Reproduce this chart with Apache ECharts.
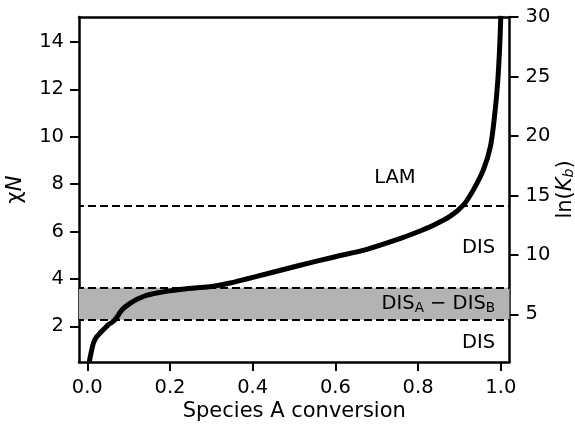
<!DOCTYPE html>
<html>
<head>
<meta charset="utf-8">
<script src="https://cdn.jsdelivr.net/npm/echarts@6/dist/echarts.min.js"></script>
<style>html,body{margin:0;padding:0;background:#fff;}#c{width:575px;height:424px;}</style>
</head>
<body>
<div id="c"></div>
<script>
// Species A conversion (x) vs chi*N (y)
const conversion = [0.005, 0.010, 0.015, 0.022, 0.031, 0.041, 0.051, 0.060, 0.067, 0.073, 0.079, 0.088, 0.099, 0.112, 0.127, 0.145, 0.168, 0.195, 0.224, 0.260, 0.300, 0.345, 0.385, 0.430, 0.510, 0.595, 0.676, 0.756, 0.797, 0.837, 0.877, 0.910, 0.934, 0.958, 0.975, 0.985, 0.992, 0.997, 1.000];
const chiN = [0.52, 0.95, 1.30, 1.55, 1.72, 1.90, 2.07, 2.18, 2.28, 2.42, 2.59, 2.77, 2.92, 3.07, 3.20, 3.32, 3.41, 3.49, 3.56, 3.62, 3.68, 3.83, 4.00, 4.20, 4.56, 4.92, 5.25, 5.70, 5.97, 6.27, 6.64, 7.13, 7.77, 8.61, 9.60, 10.9, 12.2, 13.7, 15.1];
const xTicks = [0.0, 0.2, 0.4, 0.6, 0.8, 1.0];
const yTicks = [2, 4, 6, 8, 10, 12, 14];
const lnKbTicks = [5, 10, 15, 20, 25, 30];
const lamBoundary = 7.1;
const disBand = [2.28, 3.63];
const regionLabels = ['LAM', 'DIS', 'DIS{sub|A} − DIS{sub|B}', 'DIS'];
const regionLabelX = [0.744, 0.986, 0.986, 0.986];
const regionLabelY = [8.27, 5.33, 2.96, 1.31];
const regionLabelAlign = ['center', 'right', 'right', 'right'];

const font = "'DejaVu Sans', sans-serif";
const chart = echarts.init(document.getElementById('c'), null, {renderer: 'canvas'});
const line = conversion.map((x, i) => [x, chiN[i]]);

chart.setOption({
  animation: false,
  backgroundColor: '#fff',
  grid: {left: 79, right: 65.5, top: 17, bottom: 62, containLabel: false, outerBoundsMode: 'none'},
  xAxis: [{
    type: 'value', min: -0.02, max: 1.021, position: 'bottom',
    name: 'Species A conversion', nameLocation: 'middle', nameGap: 39, nameMoveOverlap: false,
    nameTextStyle: {fontFamily: font, fontSize: 21, color: '#000'},
    axisLine: {show: true, onZero: false, lineStyle: {color: '#000', width: 2.5}},
    axisTick: {show: true, customValues: xTicks, length: 9, lineStyle: {color: '#000', width: 2}},
    axisLabel: {customValues: xTicks, margin: 16, fontFamily: font, fontSize: 19.5, color: '#000',
      formatter: v => v.toFixed(1)},
    splitLine: {show: false}
  }, {
    type: 'value', min: -0.02, max: 1.021, position: 'top',
    axisLine: {show: true, onZero: false, lineStyle: {color: '#000', width: 2.5}},
    axisTick: {show: false}, axisLabel: {show: false}, splitLine: {show: false}
  }],
  yAxis: [{
    type: 'value', min: 0.5, max: 15.05, position: 'left',
    name: 'χ{i|N}', nameLocation: 'middle', nameGap: 53, nameRotate: 90, nameMoveOverlap: false,
    nameTextStyle: {fontFamily: font, fontSize: 21, color: '#000',
      rich: {i: {fontFamily: font, fontSize: 21, fontStyle: 'italic', color: '#000'}}},
    axisLine: {show: true, onZero: false, lineStyle: {color: '#000', width: 2.5}},
    axisTick: {show: true, customValues: yTicks, length: 9, lineStyle: {color: '#000', width: 2}},
    axisLabel: {customValues: yTicks, margin: 15, fontFamily: font, fontSize: 19.5, color: '#000'},
    splitLine: {show: false}
  }, {
    type: 'value', min: 1, max: 30, position: 'right',
    name: 'ln({i|K}{sub|b})', nameLocation: 'middle', nameGap: 46, nameRotate: 90, nameMoveOverlap: false,
    nameTextStyle: {fontFamily: font, fontSize: 21, color: '#000',
      rich: {i: {fontFamily: font, fontSize: 21, fontStyle: 'italic', color: '#000'},
             sub: {fontFamily: font, fontSize: 14, fontStyle: 'italic', color: '#000', verticalAlign: 'bottom', padding: [5, 0, 0, 0]}}},
    axisLine: {show: true, onZero: false, lineStyle: {color: '#000', width: 2.5}},
    axisTick: {show: true, customValues: lnKbTicks, length: 9, lineStyle: {color: '#000', width: 2}},
    axisLabel: {customValues: lnKbTicks, margin: 16, fontFamily: font, fontSize: 19.5, color: '#000'},
    splitLine: {show: false}
  }],
  series: [{
    type: 'line', xAxisIndex: 0, yAxisIndex: 0, data: [], silent: true,
    markArea: {silent: true, itemStyle: {color: '#b3b3b3'}, data: [[{yAxis: disBand[0]}, {yAxis: disBand[1]}]]},
    markLine: {silent: true, symbol: 'none', label: {show: false},
      lineStyle: {color: '#000', width: 2, type: [8, 4], dashOffset: 3},
      data: [{yAxis: lamBoundary}, {yAxis: disBand[0]}, {yAxis: disBand[1]}]}
  }, {
    type: 'line', xAxisIndex: 0, yAxisIndex: 0, data: line, smooth: 0.3,
    showSymbol: false, symbol: 'none', clip: true,
    lineStyle: {color: '#000', width: 5}, z: 5
  }]
});

// region annotations placed through the chart's own coordinate conversion
const texts = regionLabels.map((t, i) => {
  const p = chart.convertToPixel({xAxisIndex: 0, yAxisIndex: 0}, [regionLabelX[i], regionLabelY[i]]);
  return {
    type: 'text', x: p[0], y: p[1], z: 100, silent: true,
    style: {
      text: t, fill: '#000', opacity: 1, align: regionLabelAlign[i], verticalAlign: 'middle',
      font: "19.5px 'DejaVu Sans', sans-serif",
      rich: {sub: {fontFamily: 'DejaVu Sans', fontSize: 13.5, fill: '#000', verticalAlign: 'bottom', padding: [9, 0, 0, 0]}}
    }
  };
});
chart.setOption({graphic: texts});
</script>
</body>
</html>
